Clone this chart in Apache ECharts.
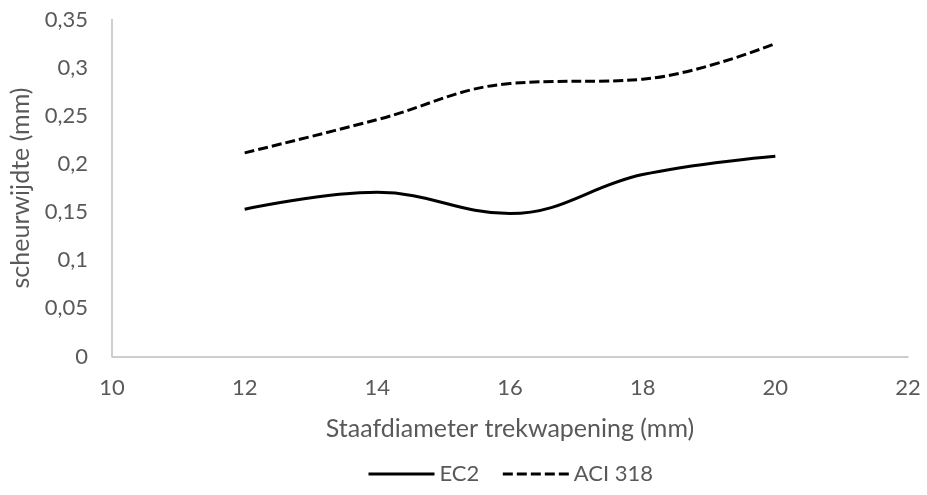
<!DOCTYPE html>
<html>
<head>
<meta charset="utf-8">
<script src="https://cdn.jsdelivr.net/npm/echarts@6/dist/echarts.min.js"></script>
<style>
  html, body { margin: 0; padding: 0; background: #fff; }
  #chart { width: 927px; height: 495px; }
</style>
</head>
<body>
<div id="chart"></div>
<script>
// Bar diameter of tensile reinforcement (mm)
const diameters = [12, 14, 16, 18, 20];
// Crack width (mm) per design code
const ec2 = [0.153, 0.1705, 0.1485, 0.189, 0.208];
const aci318 = [0.2115, 0.246, 0.2835, 0.288, 0.325];

const FONT = 'Lato';
const GREY = '#595959';
const comma = v => String(+v.toFixed(2)).replace('.', ',');

const chart = echarts.init(document.getElementById('chart'), null, { renderer: 'canvas' });
chart.setOption({
  animation: false,
  textStyle: { fontFamily: FONT },
  grid: { left: 112, right: 19, top: 19.5, bottom: 138.5 },
  legend: {
    bottom: 5,
    left: 362,
    itemWidth: 66,
    itemHeight: 14,
    itemGap: 22,
    itemTextGap: 4,
    itemStyle: { opacity: 0 },
    lineStyle: { width: 3 },
    textStyle: { fontFamily: FONT, fontSize: 22, color: GREY },
    data: ['EC2', 'ACI 318']
  },
  xAxis: {
    type: 'value',
    min: 10, max: 22, interval: 2,
    name: 'Staafdiameter trekwapening (mm)',
    nameLocation: 'middle',
    nameGap: 60,
    nameTextStyle: { fontFamily: FONT, fontSize: 25, color: GREY },
    axisLine: { show: true, lineStyle: { color: '#bfbfbf', width: 1.5 } },
    axisTick: { show: false },
    splitLine: { show: false },
    axisLabel: { fontFamily: FONT, fontSize: 22, color: GREY, margin: 20 }
  },
  yAxis: {
    type: 'value',
    min: 0, max: 0.35, interval: 0.05,
    name: 'scheurwijdte (mm)',
    nameLocation: 'middle',
    nameGap: 76,
    nameTextStyle: { fontFamily: FONT, fontSize: 25, color: GREY },
    axisLine: { show: true, lineStyle: { color: '#bfbfbf', width: 1.5 } },
    axisTick: { show: false },
    splitLine: { show: false },
    axisLabel: { fontFamily: FONT, fontSize: 22, color: GREY, margin: 24, formatter: comma }
  },
  series: [
    {
      name: 'EC2',
      type: 'line',
      smooth: 0.4,
      showSymbol: false,
      symbol: 'none',
      lineStyle: { color: '#000', width: 3 },
      itemStyle: { color: '#000' },
      data: diameters.map((d, i) => [d, ec2[i]])
    },
    {
      name: 'ACI 318',
      type: 'line',
      smooth: 0.4,
      showSymbol: false,
      symbol: 'none',
      lineStyle: { color: '#000', width: 3, type: [10, 4] },
      itemStyle: { color: '#000' },
      data: diameters.map((d, i) => [d, aci318[i]])
    }
  ]
});
</script>
</body>
</html>
